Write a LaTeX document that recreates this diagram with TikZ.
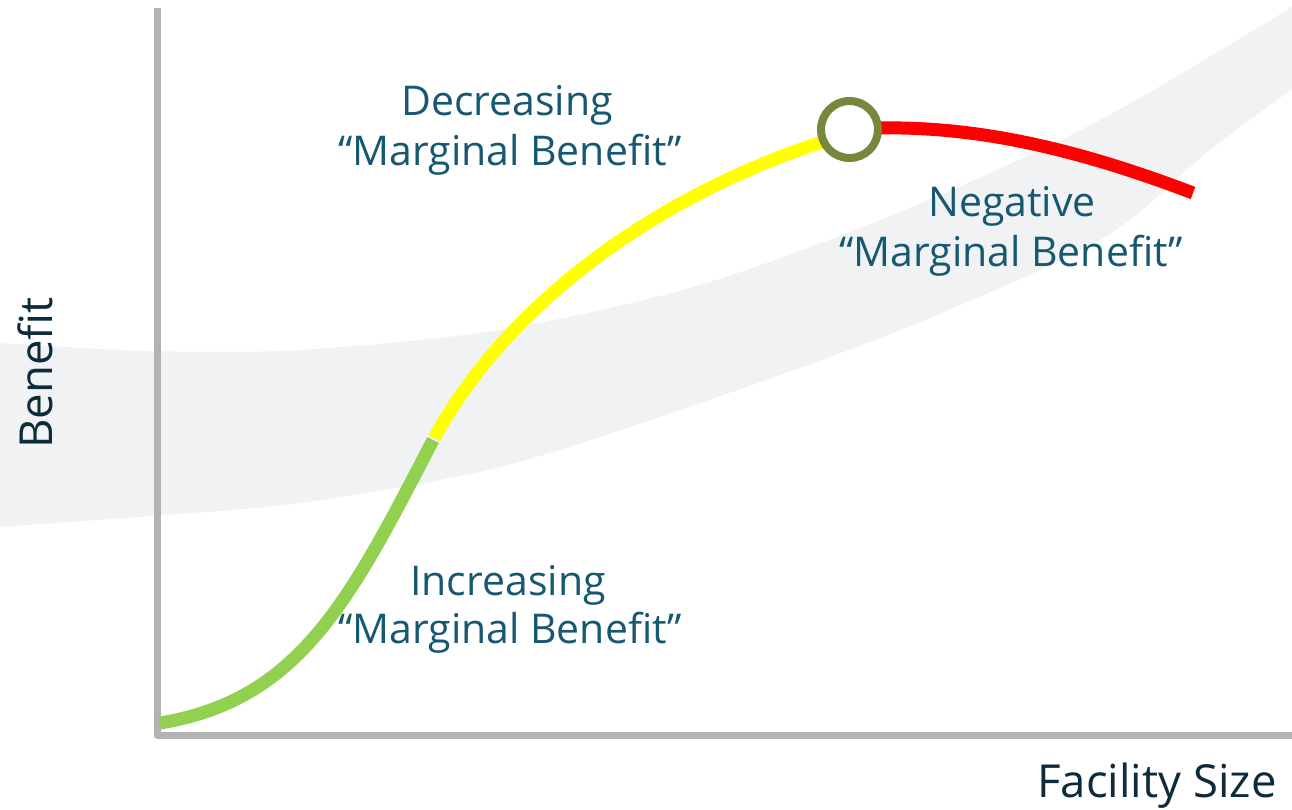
\documentclass[tikz,border=0pt]{standalone}
\usepackage{fontspec}
\setmainfont{Open Sans}
\definecolor{bandgray}{RGB}{240,242,244}
\definecolor{axisgray}{RGB}{179,179,179}
\definecolor{labeltxt}{RGB}{23,88,113}
\definecolor{axistxt}{RGB}{13,43,58}
\definecolor{cgreen}{RGB}{146,208,80}
\definecolor{cyellow}{RGB}{255,255,0}
\definecolor{cred}{RGB}{255,0,0}
\definecolor{colive}{RGB}{118,136,62}
\tikzset{
  axisline/.style={draw=axisgray, line width=7pt, line join=round},
  curveseg/.style={line width=13pt, line cap=butt},
  lbl/.style={text=labeltxt, font=\fontsize{41}{50}\selectfont, anchor=base, inner sep=0pt},
  axlbl/.style={text=axistxt, font=\fontsize{45.5}{50}\selectfont, inner sep=0pt},
  peak/.style={circle, draw=colive, line width=8pt, fill=white, minimum size=57pt, inner sep=0pt}
}
\begin{document}
\begin{tikzpicture}[x=1pt, y=-1pt]
\useasboundingbox (0,0) rectangle (1292,809);
\begin{scope}
\clip (0,0) rectangle (1292,809);
% background swoosh band
\fill[bandgray] plot[smooth] coordinates {(-20,340) (0,343) (150,351) (300,350) (500,330) (700,285) (900,212) (1100,120) (1310,-4)}
  -- plot[smooth] coordinates {(1310,76) (1210,150) (1100,240) (900,330) (700,403) (500,467) (300,503) (150,516) (0,527) (-20,528)} -- cycle;
% axes
\coordinate (ytop) at (157,8);
\coordinate (origin) at (157,735);
\coordinate (xend) at (1300,735);
\draw[axisline] (ytop) -- (origin) -- (xend);
% curve
\coordinate (c0) at (160,723);
\coordinate (c1) at (433,440);
\coordinate (c1b) at (434.2,438);
\coordinate (c2) at (822,142);
\coordinate (c3) at (878,128);
\coordinate (c4) at (1193,193);
\draw[curveseg, cgreen] (c0) .. controls (300,700) and (350,600) .. (c1);
\draw[curveseg, cyellow] (c1b) .. controls (510,300) and (660,195) .. (c2);
\draw[curveseg, cred] (c3) .. controls (980,126) and (1080,150) .. (c4);
\end{scope}
\node[peak] (pk) at (849.5,129.5) {};
% labels
\node[lbl] (dec1) at (507,115) {Decreasing};
\node[lbl] (dec2) at (510,165) {“Marginal Benefit”};
\node[lbl] (neg1) at (1012,216) {Negative};
\node[lbl] (neg2) at (1011,266) {“Marginal Benefit”};
\node[lbl] (inc1) at (508,595) {Increasing};
\node[lbl] (inc2) at (510,643) {“Marginal Benefit”};
\node[axlbl, anchor=base] (xlab) at (1157,797) {Facility Size};
\node[axlbl, rotate=90, anchor=base] (ylab) at (52,373) {Benefit};
\end{tikzpicture}
\end{document}
